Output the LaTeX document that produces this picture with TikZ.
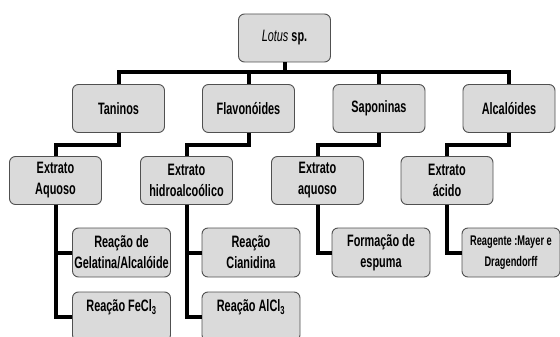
\documentclass[tikz,border=0pt]{standalone}
\usepackage{fontspec}
\setmainfont{Liberation Sans}[FakeStretch=0.66]
\definecolor{boxgray}{HTML}{DADADA}
\definecolor{boxedge}{HTML}{505050}
\begin{document}
\begin{tikzpicture}[x = 1pt, y = -1pt, font = \fontsize{16.5}{21}\selectfont\bfseries]
    \useasboundingbox (0,0) rectangle (560,337);
    \clip (0,0) rectangle (560,337);
    \begin{scope}[every node/.style={draw = boxedge, fill = boxgray, rounded corners = 6pt, line width = 0.9pt, align = center, inner sep = 1pt, minimum width = 92pt, minimum height = 48pt}]
    \node (lotus) at (284.5, 38) {{\mdseries\itshape Lotus} sp.};
    \node (tan) at (118.5, 108.5) {Taninos};
    \node (fla) at (248.5, 108.5) {Flavonóides};
    \node (sap) at (379, 108.5) {Saponinas};
    \node (alc) at (509, 108.5) {Alcalóides};
    \node (tan_ext) at (55.5, 180.5) {Extrato\\Aquoso};
    \node (fla_ext) at (186.5, 180.5) {Extrato\\hidroalcoólico};
    \node (sap_ext) at (317.5, 180.5) {Extrato\\aquoso};
    \node (alc_ext) at (447, 180.5) {Extrato\\ácido};
    \end{scope}
    \begin{scope}[every node/.style={draw = boxedge, fill = boxgray, rounded corners = 6pt, line width = 0.9pt, align = center, inner sep = 1pt, minimum width = 98pt, minimum height = 49pt}]
    \node (tan_r1) at (121.5, 252.5) {Reação de\\Gelatina/Alcalóide};
    \node (tan_r2) at (121.5, 316.5) {Reação FeCl\textsubscript{3}\\ \mbox{}};
    \node (fla_r1) at (251, 252.5) {Reação\\Cianidina};
    \node (fla_r2) at (251, 316.5) {Reação AlCl\textsubscript{3}\\ \mbox{}};
    \node (sap_r1) at (381, 252.5) {Formação de\\espuma};
    \node[font = \fontsize{14}{21}\selectfont\bfseries] (alc_r1) at (511, 252.5) {Reagente :Mayer e\\Dragendorff};
    \end{scope}
    \coordinate (bar) at (284.5, 72);
    \begin{scope}[line width = 4pt]
      \draw (lotus) -- (bar);
      \draw (tan.north) |- (bar) -| (alc.north);
      \draw (fla.north) -- (fla.north |- bar);
      \draw (sap.north) -- (sap.north |- bar);
    \end{scope}
    \begin{scope}[line width = 4pt]
      \draw (tan.south) -- ++(0,12) -| (tan_ext.north);
      \draw (fla.south) -- ++(0,12) -| (fla_ext.north);
      \draw (sap.south) -- ++(0,12) -| (sap_ext.north);
      \draw (alc.south) -- ++(0,12) -| (alc_ext.north);
    \end{scope}
    \begin{scope}[line width = 4pt]
      \draw (tan_ext.south) |- (tan_r1.west);
      \draw (tan_ext.south) |- (tan_r2.west);
      \draw (fla_ext.south) |- (fla_r1.west);
      \draw (fla_ext.south) |- (fla_r2.west);
      \draw (sap_ext.south) |- (sap_r1.west);
      \draw (alc_ext.south) |- (alc_r1.west);
    \end{scope}
\end{tikzpicture}
\end{document}
